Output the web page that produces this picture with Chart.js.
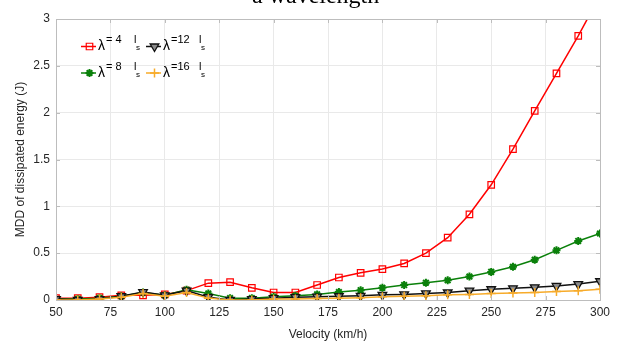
<!DOCTYPE html>
<html>
<head>
<meta charset="utf-8">
<script src="https://cdn.jsdelivr.net/npm/chart.js@4/dist/chart.umd.min.js"></script>
<style>
  html, body { margin: 0; padding: 0; background: #fff; }
  #wrap { position: relative; width: 624px; height: 348px; overflow: hidden; }
  #chart { position: absolute; left: 0; top: 0; }
  .title { position: absolute; left: 252px; top: -17px; font: 24px/24px "Liberation Serif", "Times New Roman", serif; color: #000; white-space: nowrap; }
  .lg { position: absolute; font-family: "Liberation Sans", Arial, sans-serif; color: #000; white-space: nowrap; line-height: 1; }
  .lam { font-size: 14px; }
  .sup { font-size: 11px; }
  .sub { font-size: 8px; }
</style>
</head>
<body>
<div id="wrap">
  <canvas id="chart" width="624" height="348"></canvas>
  <div class="title">a wavelength</div>
  <div id="legend"></div>
</div>
<script>
// ---------------------------------------------------------------------------
// Data
// ---------------------------------------------------------------------------
const velocity = [50, 60, 70, 80, 90, 100, 110, 120, 130, 140, 150, 160, 170,
                  180, 190, 200, 210, 220, 230, 240, 250, 260, 270, 280, 290, 300];

const mddL4  = [0.02, 0.02, 0.03, 0.05, 0.05, 0.06, 0.10, 0.18, 0.19, 0.13, 0.08, 0.08, 0.16,
                0.24, 0.29, 0.33, 0.39, 0.50, 0.665, 0.915, 1.23, 1.61, 2.02, 2.42, 2.82, 3.25];
const mddL8  = [0.01, 0.01, 0.02, 0.04, 0.08, 0.05, 0.11, 0.07, 0.02, 0.02, 0.035, 0.045, 0.06,
                0.085, 0.105, 0.13, 0.16, 0.185, 0.21, 0.25, 0.30, 0.355, 0.43, 0.53, 0.63, 0.71];
const mddL12 = [0.01, 0.00, 0.01, 0.04, 0.085, 0.05, 0.10, 0.03, 0.00, 0.01, 0.02, 0.03, 0.035,
                0.04, 0.045, 0.055, 0.06, 0.07, 0.08, 0.10, 0.115, 0.125, 0.135, 0.15, 0.17, 0.20];
const mddL16 = [0.00, 0.00, 0.01, 0.03, 0.07, 0.04, 0.08, 0.02, 0.00, 0.00, 0.01, 0.01, 0.015,
                0.02, 0.025, 0.035, 0.04, 0.045, 0.055, 0.06, 0.07, 0.075, 0.08, 0.09, 0.10, 0.115];

const legendNums = ["= 4", "= 8", "=12", "=16"];
const xTicks = [50, 75, 100, 125, 150, 175, 200, 225, 250, 275, 300];
const yTicks = [0, 0.5, 1, 1.5, 2, 2.5, 3];

// ---------------------------------------------------------------------------
// Series styles
// ---------------------------------------------------------------------------
const RED = "#ff0000";
const GREEN = "#0a800a";
const BLACK = "#111111";
const ORANGE = "#f7ab2a";
const FONT = "'Liberation Sans', Arial, sans-serif";
const TXT = "#262626";

const series = [
    { data: mddL4,  color: RED,    fill: "rgba(255,255,255,0)", style: "rect",     radius: 4.6, rot: 0,   bw: 1.2, order: 3 },
    { data: mddL8,  color: GREEN,  fill: GREEN,                 style: "star",     radius: 4,   rot: 0,   bw: 2,   order: 2 },
    { data: mddL12, color: BLACK,  fill: "#8a8a8a",             style: "triangle", radius: 5,   rot: 180, bw: 1.3, order: 1 },
    { data: mddL16, color: ORANGE, fill: ORANGE,                style: "cross",    radius: 4.5, rot: 0,   bw: 1.5, order: 0 },
];

// legend sample positions: [lineStart, lineEnd, y]
const legendSpots = [[81, 96, 46.5], [81, 96, 73], [146, 161, 46.5], [146, 161, 73]];

// ---------------------------------------------------------------------------
// Plugins: axes box with inward ticks, legend samples
// ---------------------------------------------------------------------------
const boxPlugin = {
    id: "box",
    afterDraw(chart) {
        const { ctx, chartArea: a, scales } = chart;
        ctx.save();
        ctx.strokeStyle = "#bdbdbd";
        ctx.lineWidth = 1;
        ctx.strokeRect(a.left + 0.5, a.top + 0.5, a.right - a.left, a.bottom - a.top);
        ctx.beginPath();
        for (const v of xTicks) {
            const x = Math.round(scales.x.getPixelForValue(v)) + 0.5;
            ctx.moveTo(x, a.top); ctx.lineTo(x, a.top + 4);
            ctx.moveTo(x, a.bottom); ctx.lineTo(x, a.bottom - 4);
        }
        for (const v of yTicks) {
            const y = Math.round(scales.y.getPixelForValue(v)) + 0.5;
            ctx.moveTo(a.right, y); ctx.lineTo(a.right - 4, y);
            ctx.moveTo(a.left, y); ctx.lineTo(a.left + 4, y);
        }
        ctx.stroke();

        // legend samples
        series.forEach((s, i) => {
            const [x0, x1, y] = legendSpots[i];
            ctx.strokeStyle = s.color;
            ctx.lineWidth = 1.5;
            ctx.beginPath();
            ctx.moveTo(x0, y); ctx.lineTo(x1, y);
            ctx.stroke();
            ctx.fillStyle = s.fill;
            ctx.lineWidth = s.bw;
            Chart.helpers.drawPoint(ctx, { pointStyle: s.style, radius: s.radius, rotation: s.rot, borderWidth: s.bw }, (x0 + x1) / 2 + 1, y);
        });
        ctx.restore();
    }
};

// ---------------------------------------------------------------------------
// HTML legend text
// ---------------------------------------------------------------------------
(function buildLegend() {
    const el = document.getElementById("legend");
    const cols = [98, 163];
    const rows = [50, 76.5];
    let html = "";
    legendNums.forEach((n, i) => {
        const cx = cols[Math.floor(i / 2)];
        const by = rows[i % 2];
        html += `<span class="lg lam" style="left:${cx}px;top:${by - 12}px">λ</span>`;
        html += `<span class="lg sup" style="left:${cx + 8}px;top:${by - 16}px">${n}</span>`;
        html += `<span class="lg sup" style="left:${cx + 36}px;top:${by - 16}px">l</span>`;
        html += `<span class="lg sub" style="left:${cx + 38}px;top:${by - 6}px">s</span>`;
    });
    el.innerHTML = html;
})();

// ---------------------------------------------------------------------------
// Chart
// ---------------------------------------------------------------------------
new Chart(document.getElementById("chart"), {
    type: "line",
    data: {
        datasets: series.map(s => ({
            data: velocity.map((v, i) => ({ x: v, y: s.data[i] })),
            borderColor: s.color,
            borderWidth: 1.5,
            pointStyle: s.style,
            pointRadius: s.radius,
            pointRotation: s.rot,
            pointBorderWidth: s.bw,
            pointBorderColor: s.color,
            pointBackgroundColor: s.fill,
            tension: 0,
            order: s.order,
        })),
    },
    options: {
        responsive: false,
        animation: false,
        events: [],
        layout: { padding: { left: 0, right: 24, top: 19, bottom: 0 } },
        plugins: { legend: { display: false }, tooltip: { enabled: false } },
        scales: {
            x: {
                type: "linear",
                min: 50, max: 300,
                afterFit: sc => { sc.height = 48; },
                afterBuildTicks: sc => { sc.ticks = xTicks.map(v => ({ value: v })); },
                grid: { color: "#e9e9e9", drawTicks: false },
                border: { color: "#bdbdbd" },
                ticks: { padding: 5, color: TXT, font: { family: FONT, size: 12 } },
                title: { display: true, text: "Velocity (km/h)", color: TXT, font: { family: FONT, size: 12 }, padding: { top: 0, bottom: 6 } },
            },
            y: {
                min: 0, max: 3,
                afterFit: sc => { sc.width = 56; },
                afterBuildTicks: sc => { sc.ticks = yTicks.map(v => ({ value: v })); },
                grid: { color: "#e9e9e9", drawTicks: false },
                border: { color: "#bdbdbd" },
                ticks: { padding: 6, color: TXT, font: { family: FONT, size: 12 }, callback: v => String(v) },
                title: { display: true, text: "MDD of dissipated energy (J)", color: TXT, font: { family: FONT, size: 12 }, padding: { top: 13, bottom: 0 } },
            },
        },
    },
    plugins: [boxPlugin],
});
</script>
</body>
</html>
